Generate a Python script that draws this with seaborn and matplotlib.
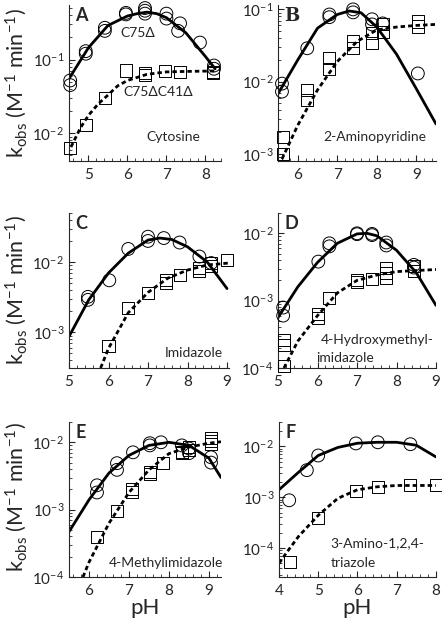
import numpy as np
import matplotlib
matplotlib.use("Agg")
import matplotlib.pyplot as plt
from matplotlib.ticker import LogLocator, MultipleLocator, NullFormatter
import seaborn as sns

sns.set_style("ticks")
plt.rcParams['font.family'] = ['Lato', 'DejaVu Sans']
plt.rcParams['mathtext.fontset'] = 'custom'
plt.rcParams['mathtext.rm'] = 'Lato'
plt.rcParams['mathtext.it'] = 'Lato:italic'

# ---- Panel A: cytosine ----
A_c75_ph = [4.53, 4.53, 4.93, 4.93, 5.42, 5.42, 5.96, 5.96, 6.45, 6.45, 6.45, 7.0, 7.0, 7.3, 7.35, 7.86, 8.22, 8.22]
A_c75_k = [0.052, 0.045, 0.13, 0.12, 0.27, 0.245, 0.43, 0.41, 0.50, 0.46, 0.42, 0.42, 0.36, 0.245, 0.31, 0.17, 0.083, 0.075]
A_c41_ph = [4.53, 4.93, 5.42, 5.96, 6.45, 6.45, 6.96, 7.35, 8.2, 8.2]
A_c41_k = [0.0063, 0.013, 0.030, 0.071, 0.065, 0.062, 0.069, 0.067, 0.068, 0.066]
A_fit1_ph = [4.5, 5.0, 5.5, 6.0, 6.25, 6.5, 6.75, 7.0, 7.5, 8.0, 8.25]
A_fit1_k = [0.055, 0.145, 0.29, 0.39, 0.42, 0.44, 0.42, 0.37, 0.23, 0.11, 0.075]
A_fit2_ph = [4.55, 4.8, 5.0, 5.25, 5.5, 5.75, 6.0, 6.5, 7.0, 7.5, 8.25]
A_fit2_k = [0.0065, 0.012, 0.0175, 0.025, 0.033, 0.044, 0.052, 0.063, 0.068, 0.069, 0.07]

# ---- Panel B: 2-aminopyridine ----
B_c75_ph = [5.6, 5.6, 6.24, 6.8, 6.8, 7.4, 7.4, 7.88, 7.88, 8.15, 9.04]
B_c75_k = [0.0094, 0.0073, 0.029, 0.085, 0.078, 0.10, 0.091, 0.073, 0.062, 0.064, 0.013]
B_c41_ph = [5.62, 5.62, 6.24, 6.24, 6.8, 6.8, 7.4, 7.4, 7.88, 7.88, 8.15, 8.15, 9.04, 9.04]
B_c41_k = [0.0017, 0.001, 0.0077, 0.0056, 0.021, 0.015, 0.036, 0.029, 0.047, 0.034, 0.062, 0.049, 0.068, 0.058]
B_fit1_ph = [5.5, 6.0, 6.5, 7.0, 7.3, 7.6, 8.0, 8.5, 9.0, 9.5]
B_fit1_k = [0.0068, 0.020, 0.055, 0.085, 0.095, 0.09, 0.057, 0.024, 0.008, 0.0026]
B_fit2_ph = [5.6, 6.0, 6.5, 7.0, 7.5, 8.0, 8.5, 9.0, 9.5]
B_fit2_k = [0.00085, 0.0025, 0.0077, 0.019, 0.036, 0.052, 0.057, 0.060, 0.062]

# ---- Panel C: imidazole ----
C_c75_ph = [5.48, 5.48, 6.02, 6.5, 7.0, 7.0, 7.4, 7.8, 8.3, 8.6]
C_c75_k = [0.0032, 0.0029, 0.0055, 0.0154, 0.023, 0.020, 0.022, 0.019, 0.012, 0.0097]
C_c41_ph = [6.0, 6.5, 7.0, 7.45, 7.45, 7.8, 8.3, 8.3, 8.6, 8.6, 9.0]
C_c41_k = [0.00063, 0.0022, 0.0036, 0.0055, 0.0050, 0.0065, 0.0082, 0.0075, 0.0097, 0.0087, 0.0107]
C_fit1_ph = [5.0, 5.5, 6.0, 6.5, 7.0, 7.3, 7.6, 8.0, 8.5, 9.0]
C_fit1_k = [0.00087, 0.0029, 0.0070, 0.0134, 0.0206, 0.022, 0.021, 0.0165, 0.010, 0.0042]
C_fit2_ph = [5.8, 6.0, 6.5, 7.0, 7.5, 8.0, 8.5, 9.05]
C_fit2_k = [0.00031, 0.00059, 0.0019, 0.0037, 0.0059, 0.0077, 0.0091, 0.0097]

# ---- Panel D: 4-hydroxymethylimidazole ----
D_c75_ph = [5.13, 5.13, 6.02, 6.3, 6.3, 7.0, 7.0, 7.38, 7.38, 7.74, 7.74, 8.44, 8.44]
D_c75_k = [0.00079, 0.0006, 0.0038, 0.0071, 0.0064, 0.010, 0.0097, 0.0098, 0.0094, 0.0073, 0.0066, 0.0034, 0.0031]
D_c41_ph = [5.15, 5.15, 5.15, 6.02, 6.02, 6.3, 7.0, 7.0, 7.38, 7.74, 7.74, 7.74, 8.44, 8.44]
D_c41_k = [0.00026, 0.00022, 0.000107, 0.00064, 0.00056, 0.0011, 0.0020, 0.0019, 0.0021, 0.0031, 0.0026, 0.0022, 0.0033, 0.0028]
D_fit1_ph = [5.0, 5.5, 6.0, 6.5, 7.0, 7.25, 7.5, 8.0, 8.5, 9.0]
D_fit1_k = [0.00056, 0.0016, 0.0037, 0.0071, 0.0098, 0.010, 0.0092, 0.0056, 0.0026, 0.00085]
D_fit2_ph = [5.15, 5.5, 6.0, 6.5, 7.0, 7.5, 8.0, 8.5, 9.0]
D_fit2_k = [0.0001, 0.00025, 0.0006, 0.0013, 0.0020, 0.0024, 0.0027, 0.0028, 0.0029]

# ---- Panel E: 4-methylimidazole ----
E_c75_ph = [6.2, 6.2, 6.7, 6.7, 7.1, 7.52, 7.52, 7.8, 8.32, 8.5, 8.5, 9.05, 9.05]
E_c75_k = [0.0023, 0.0018, 0.0049, 0.0039, 0.0071, 0.0097, 0.0090, 0.010, 0.0090, 0.0081, 0.0069, 0.0060, 0.0050]
E_c41_ph = [6.2, 6.7, 7.08, 7.08, 7.52, 7.52, 7.85, 8.32, 8.32, 8.5, 8.5, 9.05, 9.05, 9.05]
E_c41_k = [0.00039, 0.00095, 0.0018, 0.0020, 0.0036, 0.0034, 0.0050, 0.0071, 0.0069, 0.0084, 0.0076, 0.0115, 0.0105, 0.0095]
E_fit1_ph = [5.5, 6.0, 6.5, 7.0, 7.5, 8.0, 8.5, 9.0, 9.3]
E_fit1_k = [0.00047, 0.0014, 0.0035, 0.0064, 0.009, 0.010, 0.009, 0.0058, 0.0030]
E_fit2_ph = [5.85, 6.0, 6.5, 7.0, 7.5, 8.0, 8.5, 9.0, 9.3]
E_fit2_k = [0.0001, 0.000166, 0.00063, 0.0018, 0.0039, 0.0068, 0.0085, 0.0097, 0.0102]

# ---- Panel F: 3-amino-1,2,4-triazole ----
F_c75_ph = [4.26, 4.71, 5.0, 5.96, 6.52, 7.35]
F_c75_k = [0.00087, 0.0034, 0.0066, 0.0114, 0.012, 0.011]
F_c41_ph = [4.28, 5.0, 5.96, 6.52, 7.35, 8.0]
F_c41_k = [5.4e-5, 0.00039, 0.0013, 0.0016, 0.0017, 0.0017]
F_fit1_ph = [4.0, 4.5, 5.0, 5.5, 6.0, 6.5, 7.0, 7.5, 8.0]
F_fit1_k = [0.0014, 0.0031, 0.0066, 0.0095, 0.0115, 0.012, 0.012, 0.0105, 0.0062]
F_fit2_ph = [4.0, 4.2, 4.5, 5.0, 5.5, 6.0, 6.5, 7.0, 8.0]
F_fit2_k = [5e-5, 8.3e-5, 0.00017, 0.00044, 0.00095, 0.0014, 0.0016, 0.0017, 0.0017]

panels = [
    dict(letter="A", pos=[0.1561, 0.7395, 0.3439, 0.2524], xlim=(4.5, 8.4), ylim=(0.0042, 0.55),
         c75=(A_c75_ph, A_c75_k), c41=(A_c41_ph, A_c41_k),
         fit1=(A_fit1_ph, A_fit1_k), fit2=(A_fit2_ph, A_fit2_k),
         texts=[("C75\u0394", 0.34, 0.82), ("C75\u0394C41\u0394", 0.355, 0.44), ("Cytosine", 0.51, 0.155)]),
    dict(letter="B", pos=[0.629, 0.7395, 0.3575, 0.2524], xlim=(5.5, 9.5), ylim=(8e-4, 0.115),
         c75=(B_c75_ph, B_c75_k), c41=(B_c41_ph, B_c41_k),
         fit1=(B_fit1_ph, B_fit1_k), fit2=(B_fit2_ph, B_fit2_k),
         texts=[("2-Aminopyridine", 0.285, 0.155)]),
    dict(letter="C", pos=[0.1561, 0.4045, 0.362, 0.2508], xlim=(5, 9.05), ylim=(3.1e-4, 0.05),
         c75=(C_c75_ph, C_c75_k), c41=(C_c41_ph, C_c41_k),
         fit1=(C_fit1_ph, C_fit1_k), fit2=(C_fit2_ph, C_fit2_k),
         texts=[("Imidazole", 0.6, 0.10)]),
    dict(letter="D", pos=[0.629, 0.4045, 0.3575, 0.2508], xlim=(5, 9), ylim=(1e-4, 0.02),
         c75=(D_c75_ph, D_c75_k), c41=(D_c41_ph, D_c41_k),
         fit1=(D_fit1_ph, D_fit1_k), fit2=(D_fit2_ph, D_fit2_k),
         texts=[("4-Hydroxymethyl-", 0.27, 0.18), ("imidazole", 0.24, 0.065)]),
    dict(letter="E", pos=[0.1561, 0.0663, 0.3439, 0.2508], xlim=(5.5, 9.3), ylim=(1e-4, 0.02),
         c75=(E_c75_ph, E_c75_k), c41=(E_c41_ph, E_c41_k),
         fit1=(E_fit1_ph, E_fit1_k), fit2=(E_fit2_ph, E_fit2_k),
         texts=[("4-Methylimidazole", 0.26, 0.09)]),
    dict(letter="F", pos=[0.6312, 0.0663, 0.355, 0.2508], xlim=(4, 8), ylim=(2.7e-5, 0.03),
         c75=(F_c75_ph, F_c75_k), c41=(F_c41_ph, F_c41_k),
         fit1=(F_fit1_ph, F_fit1_k), fit2=(F_fit2_ph, F_fit2_k),
         texts=[("3-Amino-1,2,4-", 0.33, 0.22), ("triazole", 0.33, 0.09)]),
]

fig = plt.figure(figsize=(4.42, 6.18), dpi=100)

for p in panels:
    ax = fig.add_axes(p["pos"])
    ax.set_yscale("log")

    # fitted curves
    sns.lineplot(x=p["fit1"][0], y=p["fit1"][1], color="black", lw=2.0, ax=ax)
    sns.lineplot(x=p["fit2"][0], y=p["fit2"][1], color="black", lw=2.0,
                 linestyle=(0, (1.6, 1.1)), ax=ax)

    # data points
    sns.scatterplot(x=p["c75"][0], y=p["c75"][1], marker="o", s=85, color="black",
                    facecolors="none", edgecolor="black", linewidth=0.7, clip_on=False, ax=ax, zorder=3)
    sns.scatterplot(x=p["c41"][0], y=p["c41"][1], marker="s", s=75, color="black",
                    facecolors="none", edgecolor="black", linewidth=0.7, clip_on=False, ax=ax, zorder=3)

    ax.set_xlim(*p["xlim"])
    ax.set_ylim(*p["ylim"])
    ax.xaxis.set_major_locator(MultipleLocator(1))
    ax.xaxis.set_minor_locator(MultipleLocator(0.2))
    ax.yaxis.set_major_locator(LogLocator(base=10, numticks=10))
    ax.yaxis.set_minor_locator(LogLocator(base=10, subs=np.arange(2, 10), numticks=10))
    ax.yaxis.set_minor_formatter(NullFormatter())
    ax.tick_params(which="major", direction="in", length=4, width=0.8, labelsize=11)
    ax.tick_params(which="minor", direction="in", length=2, width=0.6)
    ax.tick_params(axis="x", pad=5)
    sns.despine(ax=ax)
    for s in ["left", "bottom"]:
        ax.spines[s].set_linewidth(0.8)

    if p["letter"] == "B":
        ax.text(0.04, 0.99, p["letter"], transform=ax.transAxes, fontsize=13,
                fontweight="bold", family="DejaVu Serif", va="top", ha="left")
    else:
        ax.text(0.04, 0.99, p["letter"], transform=ax.transAxes, fontsize=13,
                fontweight="bold", va="top", ha="left")

    for txt, tx, ty in p["texts"]:
        ax.text(tx, ty, txt, transform=ax.transAxes, fontsize=10, va="center", ha="left")

    if p["letter"] in ("E", "F"):
        ax.set_xlabel("pH", fontsize=16, labelpad=0)

# shared y labels for the left column
ylab = r"k$_{\rm obs}$ (M$^{-1}$ min$^{-1}$)"
for yc in (0.866, 0.53, 0.195):
    fig.text(0.036, yc, ylab, rotation=90, fontsize=15.5, ha="center", va="center")

fig.savefig("out.png", dpi=100)
